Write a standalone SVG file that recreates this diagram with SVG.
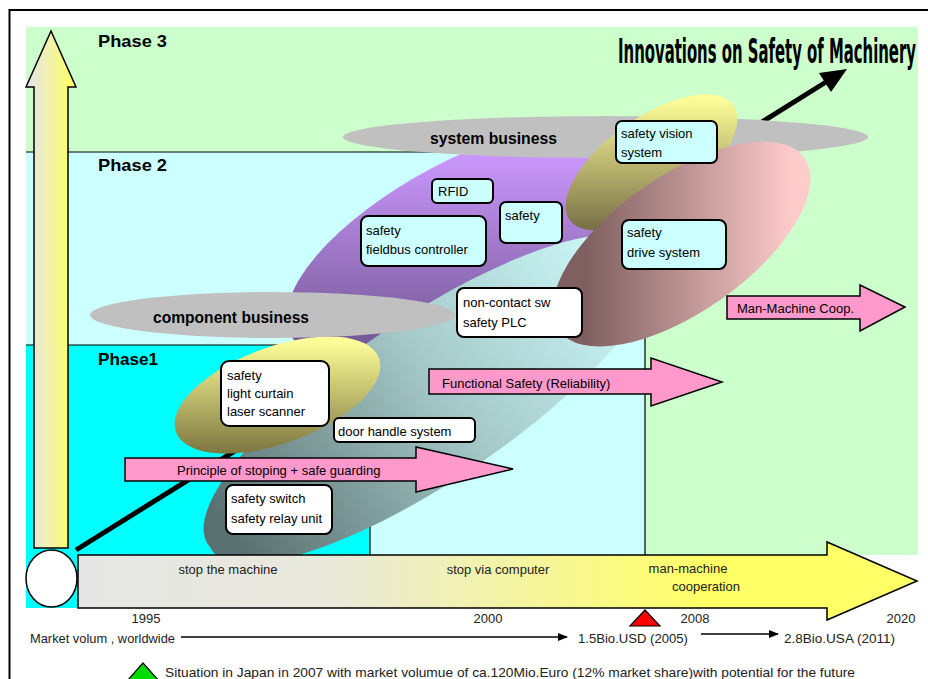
<svg xmlns="http://www.w3.org/2000/svg" width="928" height="679" viewBox="0 0 928 679">
<style>
.t{font-family:"Liberation Sans",Arial,sans-serif;font-size:13px;fill:#000}
.tl{font-family:"Liberation Sans",Arial,sans-serif;font-size:13px;fill:#222}
.b{font-family:"Liberation Sans",Arial,sans-serif;font-size:17px;font-weight:bold;fill:#000}
.box{stroke:#000;stroke-width:2}
.cy{fill:#CCFFFF}
.wh{fill:#FFFFFF}
.pk{fill:#FF99CC;stroke:#000;stroke-width:1.5}
.ln{stroke:#000;stroke-width:1.2;fill:none}
.gray{fill:#C0C0C0}
</style>
<defs>
<linearGradient id="gPurple" gradientUnits="userSpaceOnUse" x1="0" y1="150" x2="0" y2="345">
<stop offset="0" stop-color="#CC99FF"/><stop offset="1" stop-color="#745894"/></linearGradient>
<linearGradient id="gTeal" gradientUnits="userSpaceOnUse" x1="625" y1="262" x2="235" y2="545">
<stop offset="0" stop-color="#CCF8F8"/><stop offset="0.45" stop-color="#A6CACA"/><stop offset="1" stop-color="#5A7070"/></linearGradient>
<linearGradient id="gY1" gradientUnits="userSpaceOnUse" x1="0" y1="340" x2="0" y2="452">
<stop offset="0" stop-color="#FFFF99"/><stop offset="1" stop-color="#7F7840"/></linearGradient>
<linearGradient id="gY2" gradientUnits="userSpaceOnUse" x1="0" y1="97" x2="0" y2="228">
<stop offset="0" stop-color="#FFFF99"/><stop offset="1" stop-color="#7A7248"/></linearGradient>
<linearGradient id="gPink" gradientUnits="userSpaceOnUse" x1="585" y1="0" x2="795" y2="0">
<stop offset="0" stop-color="#7F5F5F"/><stop offset="1" stop-color="#FFCCCC"/></linearGradient>
<linearGradient id="gTime" gradientUnits="userSpaceOnUse" x1="78" y1="0" x2="917" y2="0">
<stop offset="0" stop-color="#E6E6E6"/><stop offset="0.3" stop-color="#E9E9DC"/><stop offset="0.75" stop-color="#FFFF66"/><stop offset="1" stop-color="#FFFF66"/></linearGradient>
<linearGradient id="gUp" gradientUnits="userSpaceOnUse" x1="30" y1="0" x2="72" y2="0">
<stop offset="0" stop-color="#E6E6E6"/><stop offset="1" stop-color="#FFFF66"/></linearGradient>
<marker id="ah" markerWidth="10" markerHeight="8" refX="9" refY="4" orient="auto" markerUnits="userSpaceOnUse">
<path d="M0,0 L10,4 L0,8 Z" fill="#000"/></marker>
</defs>

<!-- frame -->
<path d="M9.5,679 V10 H928" fill="none" stroke="#000" stroke-width="2"/>

<!-- phase backgrounds -->
<g id="phase3">
<rect x="26" y="27" width="892" height="528" fill="#CCFFCC"/>
<text class="b" x="98" y="47" textLength="69" lengthAdjust="spacingAndGlyphs">Phase 3</text>
</g>
<g id="phase2">
<rect x="26" y="152" width="619" height="403" fill="#CCFFFF"/>
<path class="ln" d="M26,152 H645 V555"/>
</g>
<g id="phase1">
<rect x="26" y="345" width="344" height="263" fill="#00FFFF"/>
<path class="ln" d="M26,345 H370 V555"/>
</g>

<!-- connectors -->
<g id="connectors">
<line x1="76" y1="550" x2="826" y2="82" stroke="#000" stroke-width="5"/>
<polygon points="847,69 831,92 819,73" fill="#000"/>
<line x1="181" y1="637" x2="567" y2="637" stroke="#000" stroke-width="1.5" marker-end="url(#ah)"/>
<line x1="701" y1="634" x2="778" y2="634" stroke="#000" stroke-width="1.5" marker-end="url(#ah)"/>
</g>

<!-- ellipses -->
<g id="purple-area">
<path d="M290,334 A200,80,-28,1,0,646.6,146.1 A200,80,-28,1,0,290,334 Z" fill="url(#gPurple)"/>
</g>
<g id="teal-area">
<path d="M210,547 A265,78,-34,1,0,649,251 A265,78,-34,1,0,210,547 Z" fill="url(#gTeal)"/>
</g>
<g id="system-business">
<ellipse class="gray" cx="605.5" cy="137" rx="262.5" ry="21"/>
<text class="b" x="430" y="144" textLength="127" lengthAdjust="spacingAndGlyphs">system business</text>
</g>
<g id="vision-area">
<path d="M569.6,219.9 A100,45,-35,1,0,733.4,105.1 A100,45,-35,1,0,569.6,219.9 Z" fill="url(#gY2)"/>
</g>
<g id="drive-area">
<path d="M558.6,330 A150,68,-35,1,0,804.4,158 A150,68,-35,1,0,558.6,330 Z" fill="url(#gPink)"/>
</g>
<g id="phase1-area">
<path d="M176,431.9 A108,48,-20,1,0,379,358.1 A108,48,-20,1,0,176,431.9 Z" fill="url(#gY1)"/>
</g>
<g id="component-business">
<ellipse class="gray" cx="272.5" cy="315" rx="182.5" ry="23"/>
<text class="b" x="153" y="323" textLength="156" lengthAdjust="spacingAndGlyphs">component business</text>
</g>

<!-- phase labels -->
<text class="b" x="98" y="171" textLength="69" lengthAdjust="spacingAndGlyphs">Phase 2</text>
<text class="b" x="98" y="365" textLength="60" lengthAdjust="spacingAndGlyphs">Phase1</text>

<!-- title -->
<g id="title" transform="translate(618,63) scale(1,2.2)">
<text x="0" y="0" font-family="'DejaVu Sans Condensed','DejaVu Sans',sans-serif" font-weight="bold" font-size="15.5" textLength="298" lengthAdjust="spacingAndGlyphs" fill="#000">Innovations on Safety of Machinery</text>
</g>

<!-- pink arrows -->
<g id="arrow-principle">
<path class="pk" d="M125,458 H416 V447 L513,469 L416,492 V481 H125 Z"/>
<text class="t" x="177" y="475">Principle of stoping + safe guarding</text>
</g>
<g id="arrow-functional">
<path class="pk" d="M429,369 H651 V358 L722,382 L651,406 V394 H429 Z"/>
<text class="t" x="442" y="388">Functional Safety (Reliability)</text>
</g>
<g id="arrow-manmachine">
<path class="pk" d="M727,296 H860 V285 L905,307 L860,331 V319 H727 Z"/>
<text class="t" x="737" y="313">Man-Machine Coop.</text>
</g>

<!-- boxes -->
<g id="box-vision">
<rect class="box cy" x="616" y="121" width="101" height="42" rx="6"/>
<text class="t" x="621" y="138">safety vision</text>
<text class="t" x="621" y="157">system</text>
</g>
<g id="box-rfid">
<rect class="box cy" x="432" y="179" width="61" height="24" rx="5"/>
<text class="t" x="438" y="196">RFID</text>
</g>
<g id="box-safety">
<rect class="box cy" x="500" y="202" width="62" height="41" rx="6"/>
<text class="t" x="505" y="220">safety</text>
</g>
<g id="box-fieldbus">
<rect class="box cy" x="361" y="216" width="125" height="50" rx="7"/>
<text class="t" x="366" y="235">safety</text>
<text class="t" x="366" y="254">fieldbus controller</text>
</g>
<g id="box-drive">
<rect class="box cy" x="622" y="220" width="104" height="49" rx="7"/>
<text class="t" x="627" y="237">safety</text>
<text class="t" x="627" y="257">drive system</text>
</g>
<g id="box-noncontact">
<rect class="box wh" x="457" y="288" width="125" height="49" rx="7"/>
<text class="t" x="463" y="307">non-contact sw</text>
<text class="t" x="463" y="327">safety PLC</text>
</g>
<g id="box-lightcurtain">
<rect class="box wh" x="221" y="361" width="108" height="65" rx="8"/>
<text class="t" x="227" y="380">safety</text>
<text class="t" x="227" y="398">light curtain</text>
<text class="t" x="227" y="416">laser scanner</text>
</g>
<g id="box-door">
<rect class="box wh" x="334" y="418" width="141" height="24" rx="5"/>
<text class="t" x="338" y="436">door handle system</text>
</g>
<g id="box-switch">
<rect class="box wh" x="226" y="485" width="106" height="49" rx="7"/>
<text class="t" x="231" y="503">safety switch</text>
<text class="t" x="231" y="523">safety relay unit</text>
</g>

<!-- vertical arrow and origin -->
<g id="up-arrow">
<path d="M51,31 L76,87 H68 V548 H34 V87 H26 Z" fill="url(#gUp)" stroke="#000" stroke-width="1.5"/>
</g>
<g id="timeline">
<path d="M78,555 H827 V542 L917,581 L827,620 V608 H78 Z" fill="url(#gTime)" stroke="#000" stroke-width="1.5"/>
<text class="tl" x="228" y="574" text-anchor="middle">stop the machine</text>
<text class="tl" x="498" y="574" text-anchor="middle">stop via computer</text>
<text class="tl" x="688" y="573" text-anchor="middle">man-machine</text>
<text class="tl" x="706" y="591" text-anchor="middle">cooperation</text>
</g>
<g id="origin">
<ellipse cx="51.5" cy="578.5" rx="25.5" ry="28.5" fill="#FFFFFF" stroke="#000" stroke-width="1.5"/>
</g>

<!-- bottom axis texts -->
<g id="axis">
<text class="tl" x="146" y="623" text-anchor="middle">1995</text>
<text class="tl" x="488" y="623" text-anchor="middle">2000</text>
<text class="tl" x="695" y="623" text-anchor="middle">2008</text>
<text class="tl" x="901" y="623" text-anchor="middle">2020</text>
<polygon points="645,610 660,626 630,626" fill="#FF0000" stroke="#000" stroke-width="1.2"/>
<text class="tl" x="30" y="643" textLength="145" lengthAdjust="spacingAndGlyphs">Market volum , worldwide</text>
<text class="tl" x="578" y="643" textLength="110" lengthAdjust="spacingAndGlyphs">1.5Bio.USD (2005)</text>
<text class="tl" x="784" y="643" textLength="111" lengthAdjust="spacingAndGlyphs">2.8Bio.USA (2011)</text>
<polygon points="143,663 159,681 127,681" fill="#00DD00" stroke="#000" stroke-width="1.2"/>
<text class="tl" x="165" y="677" textLength="690" lengthAdjust="spacingAndGlyphs">Situation in Japan in 2007 with market volumue of ca.120Mio.Euro (12% market share)with potential for the future</text>
</g>
</svg>
